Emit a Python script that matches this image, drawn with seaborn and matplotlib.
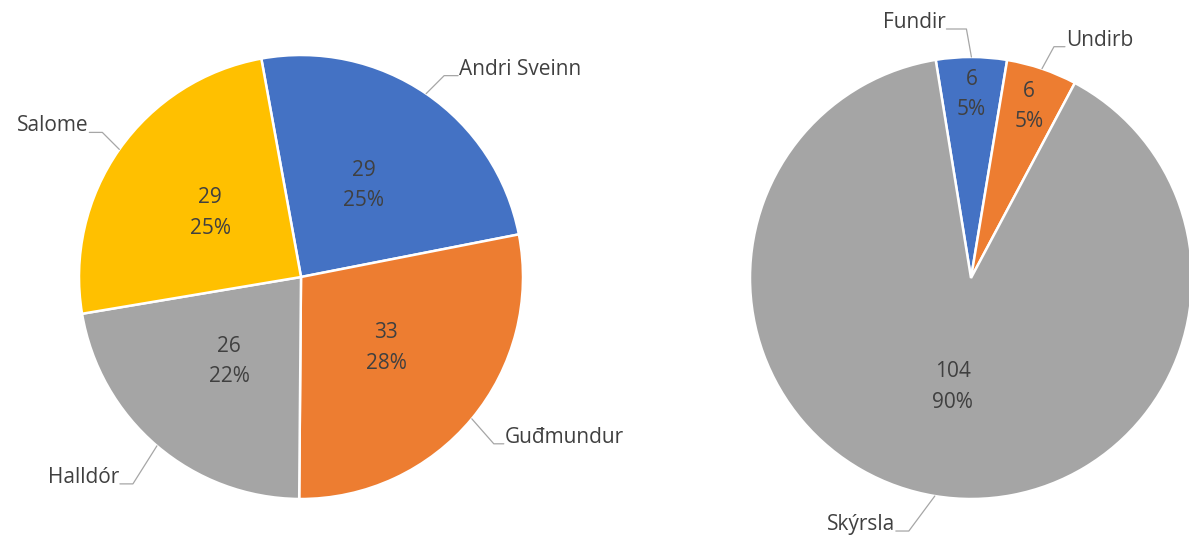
import numpy as np
import matplotlib
matplotlib.use("Agg")
import matplotlib.pyplot as plt
import seaborn as sns

# ---- data ----
left_names = ["Andri Sveinn", "Guđmundur", "Halldór", "Salome"]
left_values = [29, 33, 26, 29]
left_colors = ["#4472C4", "#ED7D31", "#A5A5A5", "#FFC000"]

right_names = ["Fundir", "Undirb", "Skýrsla"]
right_values = [6, 6, 104]
right_colors = ["#4472C4", "#ED7D31", "#A5A5A5"]

sns.set_theme(style="white")
plt.rcParams["font.family"] = ["Open Sans", "DejaVu Sans"]
TXT = "#404040"
FS = 15

W, H = 1189, 535
fig = plt.figure(figsize=(W / 100, H / 100), dpi=100)
ax = fig.add_axes([0, 0, 1, 1])


def draw_pie(values, names, colors, center, radius, startangle, inner_dist, elbows, hlen):
    wedges, _ = ax.pie(values, colors=colors, startangle=startangle, counterclock=False,
                       center=center, radius=radius,
                       wedgeprops=dict(edgecolor="white", linewidth=1.8))
    total = sum(values)
    for w, v, name, d, (ox, oy), hl in zip(wedges, values, names, inner_dist, elbows, hlen):
        mid = np.deg2rad((w.theta1 + w.theta2) / 2)
        c, s = np.cos(mid), np.sin(mid)
        # inner label
        ax.text(center[0] + d * radius * c, center[1] + d * radius * s,
                f"{v}\n{round(100 * v / total):.0f}%", ha="center", va="center",
                fontsize=FS, color=TXT, linespacing=1.6)
        # leader line
        ax0 = center[0] + radius * c
        ay0 = center[1] + radius * s
        ex, ey = ax0 + ox, ay0 + oy
        side = 1 if ox > 0 else -1
        hx = ex + hl * side
        ax.plot([ax0, ex, hx], [ay0, ey, ey], color="#A6A6A6", lw=0.9)
        ax.text(hx + 1 * side, ey + 1, name, ha="left" if side > 0 else "right",
                va="baseline", fontsize=FS, color=TXT)
    return wedges


draw_pie(left_values, left_names, left_colors, (301, H - 277), 222, 100.3,
         [0.5, 0.5, 0.5, 0.5],
         [(18, 18), (22, -25), (-24, -38), (-17, 17)],
         [14, 10, 13, 13])
draw_pie(right_values, right_names, right_colors, (971, H - 278), 221, 99.2,
         [0.83, 0.82, 0.5],
         [(-5, 28), (12, 22), (-26, -35)],
         [20, 11, 13])

ax.set_xlim(0, W)
ax.set_ylim(0, H)
ax.set_aspect("equal")
ax.axis("off")

fig.savefig("out.png", dpi=100)
